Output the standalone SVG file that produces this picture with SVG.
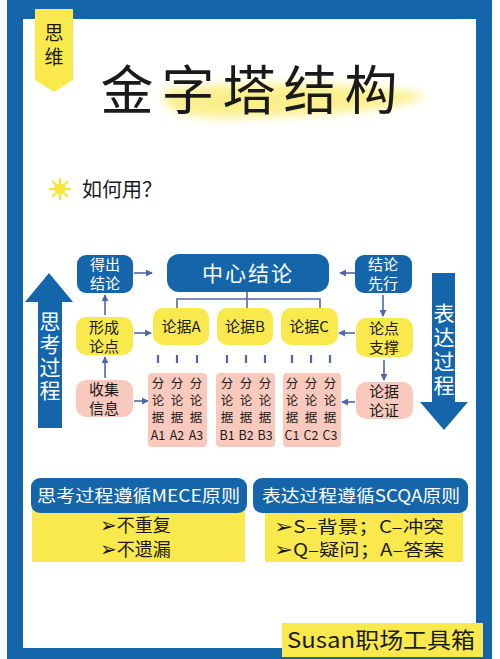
<svg xmlns="http://www.w3.org/2000/svg" width="500" height="659" viewBox="0 0 500 659">
<defs>
<style>
.t{font-family:"Noto Sans CJK SC","Noto Sans",sans-serif;}
.v{writing-mode:vertical-rl;}
.blue{fill:#1565ab;}
.yel{fill:#f9e94c;}
.pink{fill:#f8c9bc;}
.wt{fill:#ffffff;}
.bk{fill:#1a1a1a;}
.bul{font-family:"DejaVu Sans",sans-serif;}
.ln{stroke:#4d68a6;stroke-width:1.6;fill:none;}
.tick{stroke:#4d68a6;stroke-width:2.2;}
</style>
<marker id="ah" viewBox="0 0 8 8" refX="7" refY="4" markerWidth="7" markerHeight="7" markerUnits="userSpaceOnUse" orient="auto">
<path d="M0,0 L8,4 L0,8 Z" fill="#4d68a6"/>
</marker>
<filter id="blur" x="-20%" y="-50%" width="140%" height="200%"><feGaussianBlur stdDeviation="5"/></filter>
</defs>

<!-- frame -->
<rect x="0" y="0" width="500" height="659" fill="#ffffff"/>
<rect x="7" y="0" width="485" height="659" class="blue"/>
<rect x="23" y="19" width="453" height="629" fill="#ffffff"/>

<!-- tag -->
<g id="tag">
<path d="M35 9 H73 V80 L54 92 L35 80 Z" class="yel"/>
<text x="54" y="23.5" class="t bk v" font-size="19" letter-spacing="5">思维</text>
</g>

<!-- title -->
<g id="title">
<path d="M165 90 C240 80 350 82 425 94 C418 108 330 116 225 118 C195 118 165 112 165 100 Z" fill="#f9ee7a" filter="url(#blur)" opacity="0.85"/>
<text x="253" y="110" class="t bk" font-size="53" font-weight="400" text-anchor="middle" letter-spacing="8">金字塔结构</text>
</g>

<!-- how to use -->
<g id="howto">
<g stroke="#f7e53a" stroke-width="2.2">
<line x1="60" y1="178" x2="60" y2="200"/>
<line x1="49" y1="189" x2="71" y2="189"/>
<line x1="52" y1="181" x2="68" y2="197"/>
<line x1="68" y1="181" x2="52" y2="197"/>
</g>
<circle cx="60" cy="189" r="5.5" fill="#f7e53a"/>
<text x="82" y="197" class="t bk" font-size="20">如何用？</text>
</g>

<!-- big arrows -->
<g id="think-arrow">
<path d="M38 428 V302 H25 L49 273 L73 302 H62 V428 Z" class="blue"/>
<text x="50" y="311" class="t wt v" font-size="21" letter-spacing="2">思考过程</text>
</g>
<g id="express-arrow">
<path d="M432 273 H455 V402 H468 L444 430 L420 402 H432 Z" class="blue"/>
<text x="444" y="303" class="t wt v" font-size="21" letter-spacing="3">表达过程</text>
</g>

<!-- connectors -->
<g id="connectors">
<line x1="134" y1="273" x2="152" y2="273" class="ln" marker-end="url(#ah)"/>
<line x1="355" y1="273" x2="340" y2="273" class="ln" marker-end="url(#ah)"/>
<line x1="105" y1="315" x2="105" y2="295" class="ln" marker-end="url(#ah)"/>
<line x1="105" y1="378" x2="105" y2="357" class="ln" marker-end="url(#ah)"/>
<line x1="383" y1="295" x2="383" y2="316" class="ln" marker-end="url(#ah)"/>
<line x1="384" y1="360" x2="384" y2="380" class="ln" marker-end="url(#ah)"/>
<line x1="134" y1="333" x2="151" y2="333" class="ln" marker-end="url(#ah)"/>
<line x1="134" y1="401" x2="148" y2="401" class="ln" marker-end="url(#ah)"/>
<line x1="355" y1="333" x2="339" y2="333" class="ln" marker-end="url(#ah)"/>
<line x1="355" y1="402" x2="342" y2="402" class="ln" marker-end="url(#ah)"/>
<path d="M247 292 V299 M177 308 V299 H320 V308 M247 299 V308" class="ln"/>
<g class="tick">
<line x1="158" y1="355" x2="158" y2="363"/><line x1="177" y1="355" x2="177" y2="363"/><line x1="197" y1="355" x2="197" y2="363"/>
<line x1="227" y1="355" x2="227" y2="363"/><line x1="246" y1="355" x2="246" y2="363"/><line x1="265" y1="355" x2="265" y2="363"/>
<line x1="292" y1="355" x2="292" y2="363"/><line x1="311" y1="355" x2="311" y2="363"/><line x1="330" y1="355" x2="330" y2="363"/>
</g>
</g>

<!-- nodes -->
<g id="center">
<rect x="167" y="254" width="162" height="38" rx="12" class="blue"/>
<text x="248" y="281" class="t wt" font-size="21" text-anchor="middle" letter-spacing="2">中心结论</text>
</g>
<g id="derive">
<rect x="77" y="255" width="56" height="38" rx="9" class="blue"/>
<text class="t wt" font-size="15" text-anchor="middle"><tspan x="105" y="270">得出</tspan><tspan x="105" y="289">结论</tspan></text>
</g>
<g id="first">
<rect x="355" y="255" width="57" height="38" rx="9" class="blue"/>
<text class="t wt" font-size="15" text-anchor="middle"><tspan x="383" y="270">结论</tspan><tspan x="383" y="289">先行</tspan></text>
</g>
<g id="argA">
<rect x="153" y="308" width="56" height="37" rx="10" class="yel"/>
<text x="181" y="332" class="t bk" font-size="15" text-anchor="middle">论据A</text>
</g>
<g id="argB">
<rect x="217" y="308" width="56" height="37" rx="10" class="yel"/>
<text x="245" y="332" class="t bk" font-size="15" text-anchor="middle">论据B</text>
</g>
<g id="argC">
<rect x="281" y="308" width="57" height="37" rx="10" class="yel"/>
<text x="309" y="332" class="t bk" font-size="15" text-anchor="middle">论据C</text>
</g>
<g id="form">
<rect x="76" y="317" width="57" height="38" rx="10" class="yel"/>
<text class="t bk" font-size="15" text-anchor="middle"><tspan x="104" y="333">形成</tspan><tspan x="104" y="352">论点</tspan></text>
</g>
<g id="support">
<rect x="356" y="318" width="57" height="39" rx="10" class="yel"/>
<text class="t bk" font-size="15" text-anchor="middle"><tspan x="384" y="334">论点</tspan><tspan x="384" y="353">支撑</tspan></text>
</g>
<g id="collect">
<rect x="76" y="380" width="57" height="37" rx="10" class="pink"/>
<text class="t bk" font-size="15" text-anchor="middle"><tspan x="104" y="395">收集</tspan><tspan x="104" y="414">信息</tspan></text>
</g>
<g id="prove">
<rect x="356" y="382" width="57" height="37" rx="10" class="pink"/>
<text class="t bk" font-size="15" text-anchor="middle"><tspan x="384" y="397">论据</tspan><tspan x="384" y="416">论证</tspan></text>
</g>
<g id="subA">
<rect x="148" y="373" width="59" height="74" rx="4" class="pink"/>
<g class="t bk" font-size="12.5">
<text x="158" y="376.7" class="v" letter-spacing="4.5">分论据</text><text x="158" y="440" text-anchor="middle">A1</text>
<text x="177" y="376.7" class="v" letter-spacing="4.5">分论据</text><text x="177" y="440" text-anchor="middle">A2</text>
<text x="196" y="376.7" class="v" letter-spacing="4.5">分论据</text><text x="196" y="440" text-anchor="middle">A3</text>
</g>
</g>
<g id="subB">
<rect x="216" y="373" width="59" height="74" rx="4" class="pink"/>
<g class="t bk" font-size="12.5">
<text x="227" y="376.7" class="v" letter-spacing="4.5">分论据</text><text x="227" y="440" text-anchor="middle">B1</text>
<text x="246" y="376.7" class="v" letter-spacing="4.5">分论据</text><text x="246" y="440" text-anchor="middle">B2</text>
<text x="265" y="376.7" class="v" letter-spacing="4.5">分论据</text><text x="265" y="440" text-anchor="middle">B3</text>
</g>
</g>
<g id="subC">
<rect x="283" y="373" width="58" height="74" rx="4" class="pink"/>
<g class="t bk" font-size="12.5">
<text x="292" y="376.7" class="v" letter-spacing="4.5">分论据</text><text x="292" y="440" text-anchor="middle">C1</text>
<text x="311" y="376.7" class="v" letter-spacing="4.5">分论据</text><text x="311" y="440" text-anchor="middle">C2</text>
<text x="330" y="376.7" class="v" letter-spacing="4.5">分论据</text><text x="330" y="440" text-anchor="middle">C3</text>
</g>
</g>

<!-- principle boxes -->
<g id="mece">
<rect x="32" y="505" width="213" height="57" class="yel"/>
<rect x="31" y="478" width="216" height="35" rx="9" class="blue"/>
<text x="37" y="502" class="t wt" font-size="17" textLength="203" lengthAdjust="spacingAndGlyphs">思考过程遵循MECE原则</text>
<text x="100" y="532" class="t bk" font-size="18"><tspan class="bul" font-size="20">➢</tspan>不重复</text>
<text x="100" y="556" class="t bk" font-size="18"><tspan class="bul" font-size="20">➢</tspan>不遗漏</text>
</g>
<g id="scqa">
<rect x="265" y="505" width="198" height="57" class="yel"/>
<rect x="253" y="478" width="215" height="35" rx="9" class="blue"/>
<text x="262" y="502" class="t wt" font-size="17" textLength="198" lengthAdjust="spacingAndGlyphs">表达过程遵循SCQA原则</text>
<text x="274" y="533" class="t bk" font-size="17" textLength="170" lengthAdjust="spacingAndGlyphs"><tspan class="bul" font-size="19">➢</tspan>S–背景；C–冲突</text>
<text x="274" y="556" class="t bk" font-size="17" textLength="170" lengthAdjust="spacingAndGlyphs"><tspan class="bul" font-size="19">➢</tspan>Q–疑问；A–答案</text>
</g>

<!-- footer -->
<g id="footer">
<rect x="282" y="623" width="201" height="34" class="yel"/>
<text x="287" y="648" class="t bk" font-size="22" textLength="188" lengthAdjust="spacingAndGlyphs">Susan职场工具箱</text>
</g>
</svg>
